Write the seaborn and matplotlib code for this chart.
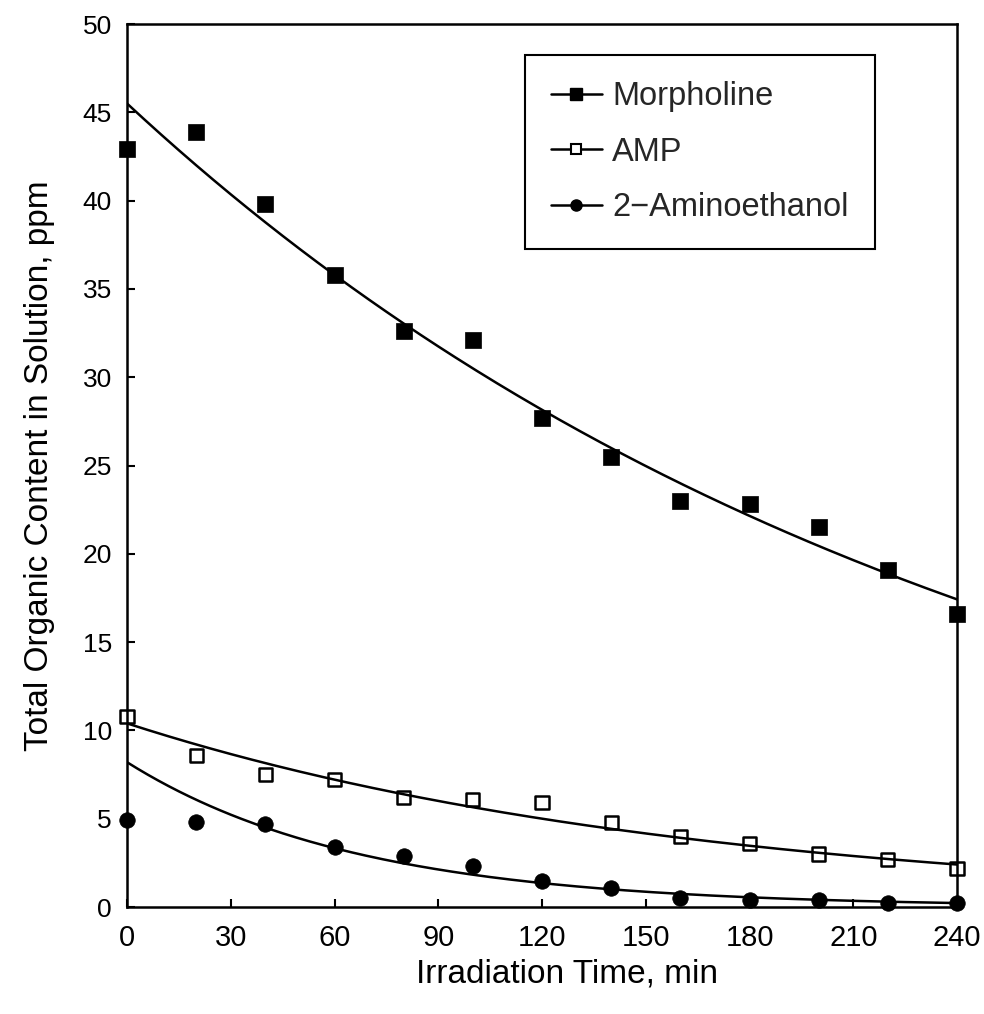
import numpy as np
import pandas as pd
import matplotlib
matplotlib.use("Agg")
import matplotlib.pyplot as plt
from matplotlib.lines import Line2D
import seaborn as sns

# Measured total organic content (ppm) during irradiation
time_min = [0, 20, 40, 60, 80, 100, 120, 140, 160, 180, 200, 220, 240]
morpholine = [42.9, 43.9, 39.8, 35.8, 32.6, 32.1, 27.7, 25.5, 23.0, 22.8, 21.5, 19.1, 16.6]
amp = [10.8, 8.6, 7.5, 7.2, 6.2, 6.1, 5.9, 4.8, 4.0, 3.6, 3.0, 2.7, 2.2]
aminoethanol = [4.9, 4.8, 4.7, 3.4, 2.9, 2.3, 1.5, 1.1, 0.5, 0.4, 0.4, 0.2, 0.2]

compounds = ["Morpholine", "AMP", "2\u2212Aminoethanol"]

# First-order decay fits: C(t) = C0 * exp(-k t)
fit_c0 = [45.5, 10.4, 8.2]
fit_k = [0.0040, 0.0061, 0.0150]

x_ticks = [0, 30, 60, 90, 120, 150, 180, 210, 240]
y_ticks = [0, 5, 10, 15, 20, 25, 30, 35, 40, 45, 50]

sns.set_theme(style="white")
plt.rcParams["font.family"] = ["Liberation Sans", "DejaVu Sans"]

fig = plt.figure(figsize=(9.84, 10.14), dpi=100)
ax = fig.add_axes([0.1291, 0.1055, 0.8435, 0.8708])

points = pd.DataFrame({
    "time": time_min * 3,
    "toc": morpholine + amp + aminoethanol,
    "compound": [c for c in compounds for _ in time_min],
})

t_fit = np.linspace(0, 240, 241)
curves = pd.DataFrame({
    "time": np.tile(t_fit, 3),
    "toc": np.concatenate([c0 * np.exp(-k * t_fit) for c0, k in zip(fit_c0, fit_k)]),
    "compound": np.repeat(compounds, len(t_fit)),
})

# fitted curves
for name in compounds:
    sns.lineplot(data=curves[curves["compound"] == name], x="time", y="toc",
                 color="black", linewidth=1.8, ax=ax, legend=False)

# measured points
styles = {
    compounds[0]: dict(marker="s", s=118, facecolor="black", edgecolor="black", linewidth=0.5),
    compounds[1]: dict(marker="s", s=90, facecolor="none", edgecolor="black", linewidth=1.8),
    compounds[2]: dict(marker="o", s=125, facecolor="black", edgecolor="black", linewidth=0.5),
}
for name in compounds:
    sub = points[points["compound"] == name]
    sns.scatterplot(data=sub, x="time", y="toc", ax=ax, legend=False,
                    clip_on=False, zorder=5, **styles[name])

ax.set_xlim(0, 240)
ax.set_ylim(0, 50)
ax.set_xticks(x_ticks)
ax.set_yticks(y_ticks)
ax.set_xticklabels([str(v) for v in x_ticks], fontsize=21)
ax.set_yticklabels([str(v) for v in y_ticks], fontsize=19)
ax.tick_params(axis="both", direction="in", length=6, width=1.5, colors="black",
               bottom=True, left=True, top=False, right=False)
ax.tick_params(axis="x", pad=12)
ax.tick_params(axis="y", pad=11)

for sp in ax.spines.values():
    sp.set_color("black")
    sp.set_linewidth(1.8)

ax.set_xlabel("Irradiation Time, min", fontsize=24, color="black")
ax.xaxis.set_label_coords(0.53, -0.058)
ax.set_ylabel("Total Organic Content in Solution, ppm", fontsize=24, color="black",
              labelpad=20)

handles = [
    Line2D([], [], color="black", lw=1.8, marker="s", markersize=8,
           markerfacecolor="black", markeredgecolor="black"),
    Line2D([], [], color="black", lw=1.8, marker="s", markersize=7,
           markerfacecolor="white", markeredgecolor="black", markeredgewidth=1.5),
    Line2D([], [], color="black", lw=1.8, marker="o", markersize=8,
           markerfacecolor="black", markeredgecolor="black"),
]
leg = ax.legend(handles, compounds, loc="upper right", bbox_to_anchor=(0.901, 0.965),
                borderaxespad=0, fontsize=23.5, frameon=True, fancybox=False,
                handlelength=1.55, handletextpad=0.33, labelspacing=0.75, borderpad=0.8)
leg.get_frame().set_edgecolor("black")
leg.get_frame().set_linewidth(1.5)
leg.get_frame().set_alpha(1)

fig.savefig("out.png", dpi=100, facecolor="white")
